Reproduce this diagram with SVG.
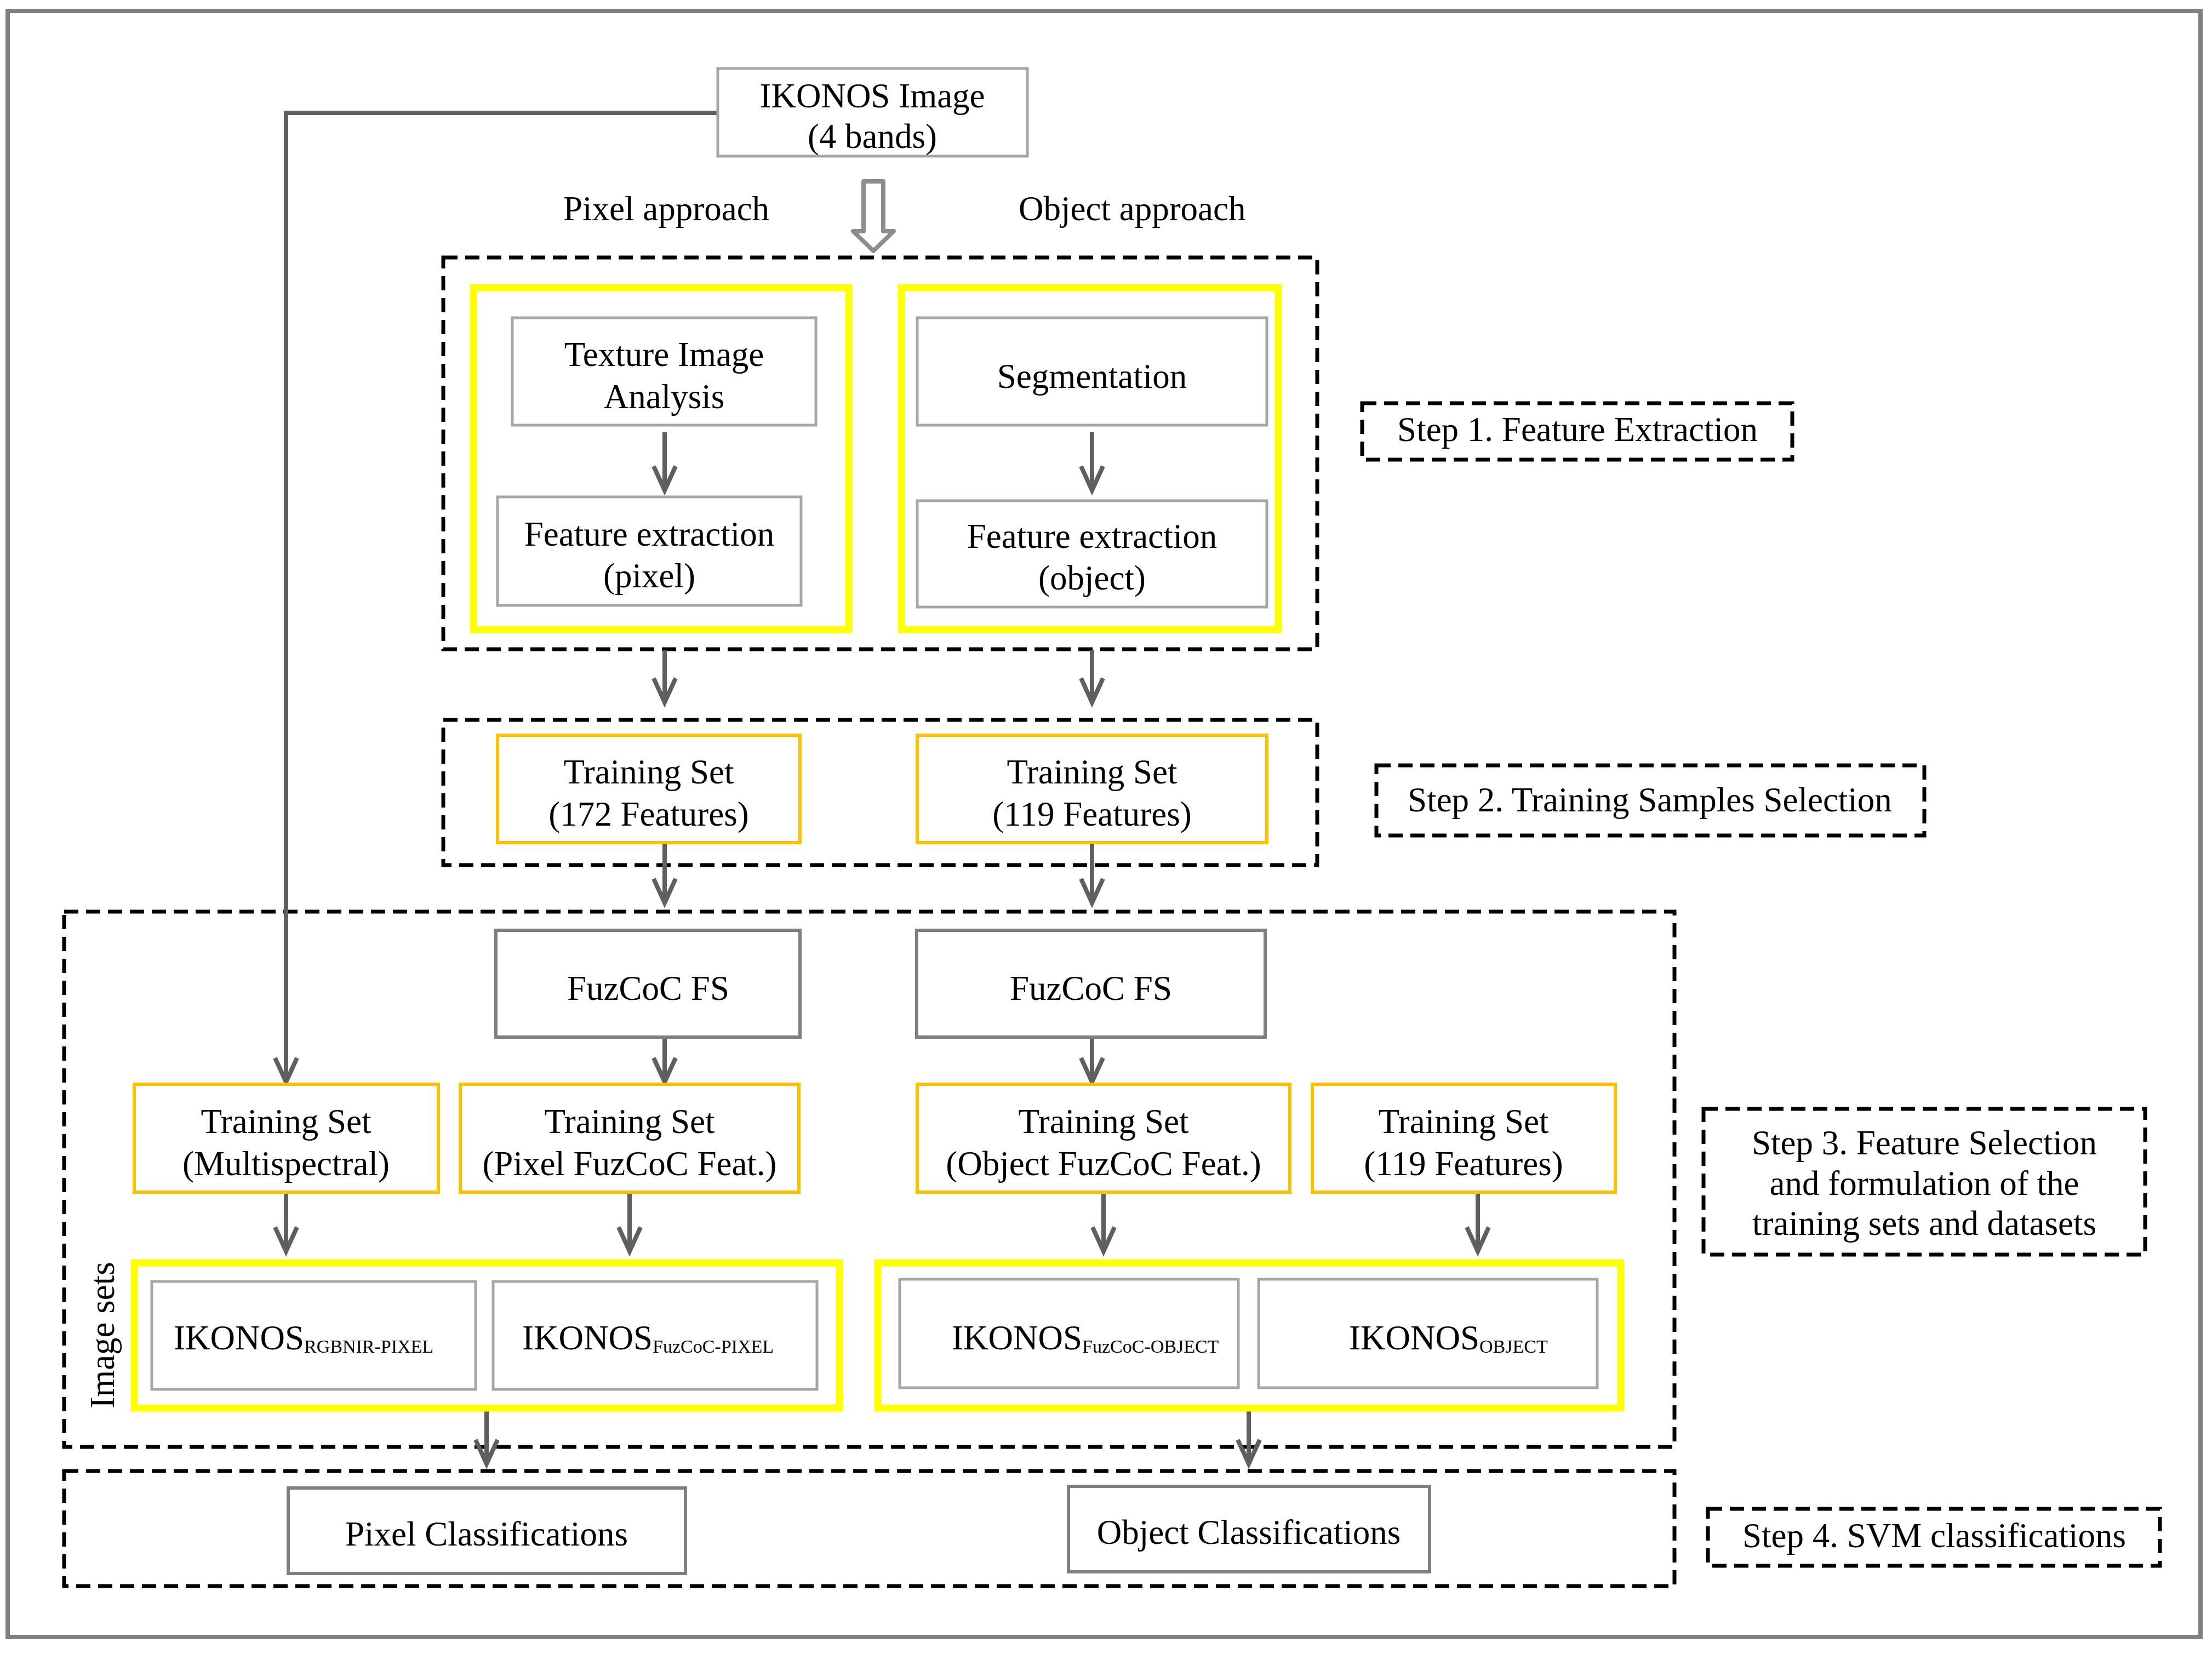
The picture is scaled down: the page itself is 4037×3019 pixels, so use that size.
<svg xmlns="http://www.w3.org/2000/svg" width="4037" height="3019" viewBox="0 0 4037 3019">
<style>
text{font-family:"Liberation Serif","Times New Roman",serif;font-size:63px;fill:#000}
.c{text-anchor:middle}
.sub{font-size:34px}
.lg{fill:#fff;stroke:#a6a6a6;stroke-width:5}
.dg{fill:#fff;stroke:#7f7f7f;stroke-width:6}
.or{fill:#fff;stroke:#ffc000;stroke-width:6}
.ye{fill:none;stroke:#ffff00;stroke-width:13}
.da{fill:none;stroke:#000;stroke-width:7;stroke-dasharray:26 14}
.ar{fill:none;stroke:#5f5f5f;stroke-width:8;marker-end:url(#ah)}
</style>
<defs>
<marker id="ah" markerUnits="userSpaceOnUse" orient="auto" refX="0" refY="0" markerWidth="60" markerHeight="60" viewBox="-50 -30 60 60" overflow="visible">
<path d="M-44,-20 L0,0 L-44,20" fill="none" stroke="#5f5f5f" stroke-width="8" stroke-linejoin="miter"/>
</marker>
</defs>
<rect x="0" y="0" width="4037" height="3019" fill="#fff"/>
<rect x="14" y="20" width="4002" height="2968" fill="none" stroke="#808080" stroke-width="8"/>

<g id="regions">
<rect class="da" x="809" y="470" width="1595" height="715"/>
<rect class="da" x="809" y="1314" width="1595" height="265"/>
<rect class="da" x="117" y="1664" width="2939" height="977"/>
<rect class="da" x="117" y="2685" width="2939" height="210"/>
</g>

<g id="connectors">
<path class="ar" d="M1310,206 H522 V1975"/>
<path d="M1576,331 H1612 V422 H1631 L1594,458 L1557,422 H1576 Z" fill="#fff" stroke="#8c8c8c" stroke-width="8" stroke-linejoin="round"/>
<path class="ar" d="M1213,789 V895"/>
<path class="ar" d="M1993,789 V895"/>
<path class="ar" d="M1213,1187 V1282"/>
<path class="ar" d="M1993,1187 V1282"/>
<path class="ar" d="M1213,1538 V1648"/>
<path class="ar" d="M1993,1538 V1648"/>
<path class="ar" d="M1213,1893 V1975"/>
<path class="ar" d="M1993,1893 V1975"/>
<path class="ar" d="M522,2176 V2284"/>
<path class="ar" d="M1149,2176 V2284"/>
<path class="ar" d="M2014,2176 V2284"/>
<path class="ar" d="M2697,2176 V2284"/>
<path class="ar" d="M888,2570 V2672"/>
<path class="ar" d="M2279,2570 V2672"/>
</g>

<g id="ikonos">
<rect class="lg" x="1310" y="125" width="565" height="160"/>
<text class="c" x="1592" y="196">IKONOS Image</text>
<text class="c" x="1592" y="270">(4 bands)</text>
</g>
<g id="pixel-approach"><text x="1028" y="402">Pixel approach</text></g>
<g id="object-approach"><text x="1859" y="402">Object approach</text></g>

<g id="pixel-group"><rect class="ye" x="864" y="525" width="685" height="624"/></g>
<g id="object-group"><rect class="ye" x="1645" y="525" width="688" height="624"/></g>

<g id="texture">
<rect class="lg" x="935" y="580" width="554" height="196"/>
<text class="c" x="1212" y="668">Texture Image</text>
<text class="c" x="1212" y="745">Analysis</text>
</g>
<g id="fe-pixel">
<rect class="lg" x="908" y="907" width="554" height="198"/>
<text class="c" x="1185" y="996">Feature extraction</text>
<text class="c" x="1185" y="1072">(pixel)</text>
</g>
<g id="segmentation">
<rect class="lg" x="1674" y="580" width="638" height="196"/>
<text class="c" x="1993" y="708">Segmentation</text>
</g>
<g id="fe-object">
<rect class="lg" x="1674" y="914" width="638" height="194"/>
<text class="c" x="1993" y="1000">Feature extraction</text>
<text class="c" x="1993" y="1076">(object)</text>
</g>

<g id="step1">
<rect class="da" x="2486" y="736" width="785" height="103"/>
<text class="c" x="2879" y="805">Step 1. Feature Extraction</text>
</g>

<g id="ts172">
<rect class="or" x="908" y="1342" width="552" height="196"/>
<text class="c" x="1184" y="1430">Training Set</text>
<text class="c" x="1184" y="1507">(172 Features)</text>
</g>
<g id="ts119a">
<rect class="or" x="1674" y="1342" width="638" height="196"/>
<text class="c" x="1993" y="1430">Training Set</text>
<text class="c" x="1993" y="1507">(119 Features)</text>
</g>

<g id="step2">
<rect class="da" x="2512" y="1397" width="1000" height="128"/>
<text class="c" x="3011" y="1481">Step 2. Training Samples Selection</text>
</g>

<g id="fuzcoc-pixel">
<rect class="dg" x="905" y="1698" width="555" height="195"/>
<text class="c" x="1183" y="1825">FuzCoC FS</text>
</g>
<g id="fuzcoc-object">
<rect class="dg" x="1673" y="1698" width="636" height="195"/>
<text class="c" x="1991" y="1825">FuzCoC FS</text>
</g>

<g id="ts-multi">
<rect class="or" x="245" y="1979" width="555" height="197"/>
<text class="c" x="522" y="2068">Training Set</text>
<text class="c" x="522" y="2145">(Multispectral)</text>
</g>
<g id="ts-pixfuz">
<rect class="or" x="840" y="1979" width="618" height="197"/>
<text class="c" x="1149" y="2068">Training Set</text>
<text class="c" x="1149" y="2145">(Pixel FuzCoC Feat.)</text>
</g>
<g id="ts-objfuz">
<rect class="or" x="1674" y="1979" width="680" height="197"/>
<text class="c" x="2014" y="2068">Training Set</text>
<text class="c" x="2014" y="2145">(Object FuzCoC Feat.)</text>
</g>
<g id="ts119b">
<rect class="or" x="2395" y="1979" width="553" height="197"/>
<text class="c" x="2671" y="2068">Training Set</text>
<text class="c" x="2671" y="2145">(119 Features)</text>
</g>

<g id="step3">
<rect class="da" x="3109" y="2024" width="806" height="266"/>
<text class="c" x="3512" y="2107">Step 3. Feature Selection</text>
<text class="c" x="3512" y="2181">and formulation of the</text>
<text class="c" x="3512" y="2254">training sets and datasets</text>
</g>

<g id="image-sets-label"><text class="c" transform="translate(208,2437) rotate(-90)" x="0" y="0">Image sets</text></g>

<g id="pixel-sets"><rect class="ye" x="245" y="2305" width="1287" height="265"/></g>
<g id="object-sets"><rect class="ye" x="1602" y="2305" width="1356" height="265"/></g>

<g id="ikonos-rgbnir">
<rect class="lg" x="277" y="2339" width="591" height="197"/>
<text x="317" y="2463">IKONOS<tspan class="sub" dy="6">RGBNIR-PIXEL</tspan></text>
</g>
<g id="ikonos-fuzpix">
<rect class="lg" x="900" y="2339" width="591" height="197"/>
<text x="953" y="2463">IKONOS<tspan class="sub" dy="6">FuzCoC-PIXEL</tspan></text>
</g>
<g id="ikonos-fuzobj">
<rect class="lg" x="1642" y="2335" width="618" height="198"/>
<text x="1737" y="2463">IKONOS<tspan class="sub" dy="6">FuzCoC-OBJECT</tspan></text>
</g>
<g id="ikonos-obj">
<rect class="lg" x="2297" y="2335" width="618" height="198"/>
<text x="2462" y="2463">IKONOS<tspan class="sub" dy="6">OBJECT</tspan></text>
</g>

<g id="pixel-class">
<rect class="dg" x="526" y="2716" width="725" height="156"/>
<text class="c" x="888" y="2821">Pixel Classifications</text>
</g>
<g id="object-class">
<rect class="dg" x="1950" y="2713" width="659" height="156"/>
<text class="c" x="2279" y="2818">Object Classifications</text>
</g>

<g id="step4">
<rect class="da" x="3117" y="2754" width="825" height="104"/>
<text class="c" x="3530" y="2824">Step 4. SVM classifications</text>
</g>
</svg>
